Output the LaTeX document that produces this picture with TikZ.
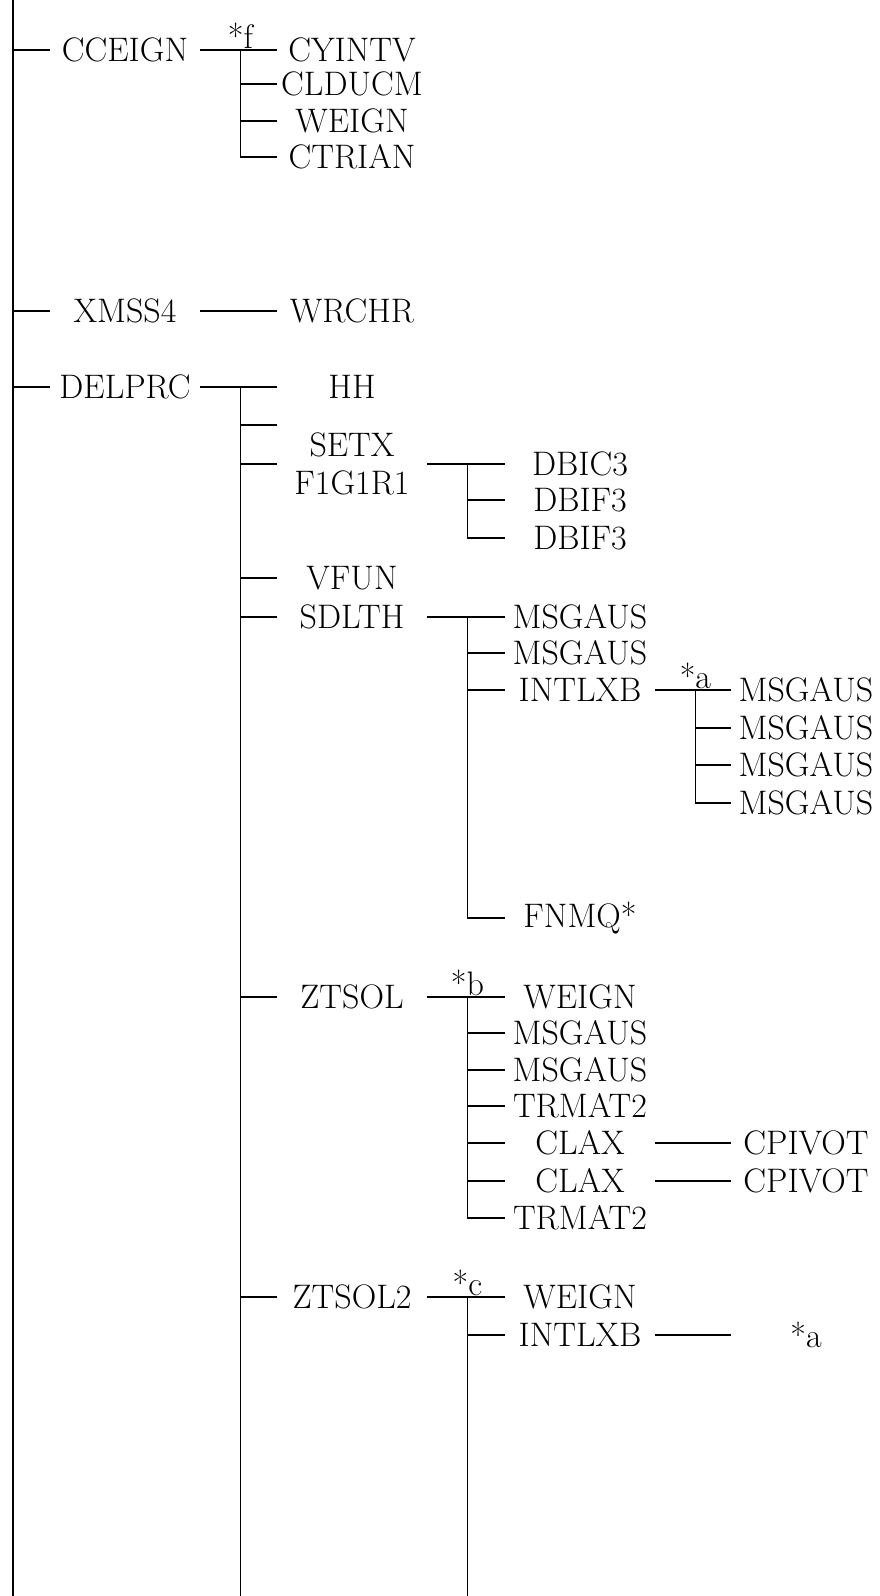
\documentclass[tikz,border=0pt]{standalone}
\tikzset{
  fn/.style={
    minimum width=75pt,
    inner xsep=0pt, inner ysep=1pt,
    font=\fontsize{17}{19}\selectfont,
    align=center
  },
  rama/.style={line width=0.6pt, black},
  tronco/.style={line width=0.8pt, black},
  marca/.style={above, inner sep=0.5pt, font=\fontsize{17}{19}\selectfont}
}

\begin{document}
\begin{tikzpicture}[x=0.5pt, y=-0.5pt]
\useasboundingbox (0,0) rectangle (879,1596);

% Tronco principal (x=13)
\coordinate (arriba) at (13,0);
\coordinate (abajo) at (13,1596);
\draw[tronco] (arriba) -- (abajo);

% Nivel 1
\node[fn] (cceign) at (125,50) {CCEIGN};
\node[fn] (xmss4) at (125,311) {XMSS4};
\node[fn] (delprc) at (125,387) {DELPRC};
\draw[rama] (arriba |- cceign) -- (cceign.west);
\draw[rama] (arriba |- xmss4) -- (xmss4.west);
\draw[rama] (arriba |- delprc) -- (delprc.west);

% Rama CCEIGN (*f)
\node[fn] (cyintv) at (352,50) {CYINTV};
\node[fn] (clducm) at (352,84) {CLDUCM};
\node[fn] (weignA) at (352,121) {WEIGN};
\node[fn] (ctrian) at (352,157) {CTRIAN};
\coordinate (jf) at ([xshift=20pt]cceign.east);
\draw[rama] (cceign.east) -- (cyintv.west);
\draw[rama] (jf) |- (ctrian.west);
\draw[rama] (jf |- clducm) -- (clducm.west);
\draw[rama] (jf |- weignA) -- (weignA.west);
\node[marca] (mf) at (jf) {*f};

% Rama XMSS4
\node[fn] (wrchr) at (352,311) {WRCHR};
\draw[rama] (xmss4.east) -- (wrchr.west);

% Rama DELPRC (sigue abajo)
\node[fn] (hh) at (352,387) {HH};
\node[fn] (setx) at (352,464) {SETX\\F1G1R1};
\node[fn] (vfun) at (352,578) {VFUN};
\node[fn] (sdlth) at (352,617) {SDLTH};
\node[fn] (ztsol) at (352,997) {ZTSOL};
\node[fn] (ztsolb) at (352,1297) {ZTSOL2};
\coordinate (jd) at ([xshift=20pt]delprc.east);
\coordinate (vacio) at (277,425);
\draw[rama] (delprc.east) -- (hh.west);
\draw[tronco] (jd) -- (jd |- abajo);
\draw[rama] (jd |- vacio) -- (vacio);
\draw[rama] (jd |- setx) -- (setx.west);
\draw[rama] (jd |- vfun) -- (vfun.west);
\draw[rama] (jd |- sdlth) -- (sdlth.west);
\draw[rama] (jd |- ztsol) -- (ztsol.west);
\draw[rama] (jd |- ztsolb) -- (ztsolb.west);

% SETX / F1G1R1
\node[fn] (dbic3) at (580,464) {DBIC3};
\node[fn] (dbifA) at (580,500) {DBIF3};
\node[fn] (dbifB) at (580,538) {DBIF3};
\coordinate (js) at ([xshift=20pt]setx.east);
\draw[rama] (setx.east) -- (dbic3.west);
\draw[rama] (js) |- (dbifB.west);
\draw[rama] (js |- dbifA) -- (dbifA.west);

% SDLTH
\node[fn] (msgA) at (580,617) {MSGAUS};
\node[fn] (msgB) at (580,653) {MSGAUS};
\node[fn] (intlxb) at (580,690) {INTLXB};
\node[fn] (fnmq) at (580,918) {FNMQ*};
\coordinate (jl) at ([xshift=20pt]sdlth.east);
\draw[rama] (sdlth.east) -- (msgA.west);
\draw[rama] (jl) |- (fnmq.west);
\draw[rama] (jl |- msgB) -- (msgB.west);
\draw[rama] (jl |- intlxb) -- (intlxb.west);

% INTLXB (*a)
\node[fn] (msgC) at (806,690) {MSGAUS};
\node[fn] (msgD) at (806,728) {MSGAUS};
\node[fn] (msgE) at (806,765) {MSGAUS};
\node[fn] (msgF) at (806,803) {MSGAUS};
\coordinate (ja) at ([xshift=20pt]intlxb.east);
\draw[rama] (intlxb.east) -- (msgC.west);
\draw[rama] (ja) |- (msgF.west);
\draw[rama] (ja |- msgD) -- (msgD.west);
\draw[rama] (ja |- msgE) -- (msgE.west);
\node[marca] (ma) at (ja) {*a};

% ZTSOL (*b)
\node[fn] (weignB) at (580,997) {WEIGN};
\node[fn] (msgG) at (580,1033) {MSGAUS};
\node[fn] (msgH) at (580,1070) {MSGAUS};
\node[fn] (trmatA) at (580,1106) {TRMAT2};
\node[fn] (claxA) at (580,1143) {CLAX};
\node[fn] (claxB) at (580,1181) {CLAX};
\node[fn] (trmatB) at (580,1218) {TRMAT2};
\coordinate (jb) at ([xshift=20pt]ztsol.east);
\draw[rama] (ztsol.east) -- (weignB.west);
\draw[rama] (jb) |- (trmatB.west);
\draw[rama] (jb |- msgG) -- (msgG.west);
\draw[rama] (jb |- msgH) -- (msgH.west);
\draw[rama] (jb |- trmatA) -- (trmatA.west);
\draw[rama] (jb |- claxA) -- (claxA.west);
\draw[rama] (jb |- claxB) -- (claxB.west);
\node[marca] (mb) at (jb) {*b};

% CLAX -> CPIVOT
\node[fn] (cpivA) at (806,1143) {CPIVOT};
\node[fn] (cpivB) at (806,1181) {CPIVOT};
\draw[rama] (claxA.east) -- (cpivA.west);
\draw[rama] (claxB.east) -- (cpivB.west);

% ZTSOL2 (*c, sigue abajo)
\node[fn] (weignC) at (580,1297) {WEIGN};
\node[fn] (intlxbB) at (580,1335) {INTLXB};
\node[fn] (refa) at (806,1335) {*a};
\coordinate (jc) at ([xshift=20pt]ztsolb.east);
\draw[rama] (ztsolb.east) -- (weignC.west);
\draw[tronco] (jc) -- (jc |- abajo);
\draw[rama] (jc |- intlxbB) -- (intlxbB.west);
\draw[rama] (intlxbB.east) -- (refa.west);
\node[marca] (mc) at (jc) {*c};

\end{tikzpicture}
\end{document}
